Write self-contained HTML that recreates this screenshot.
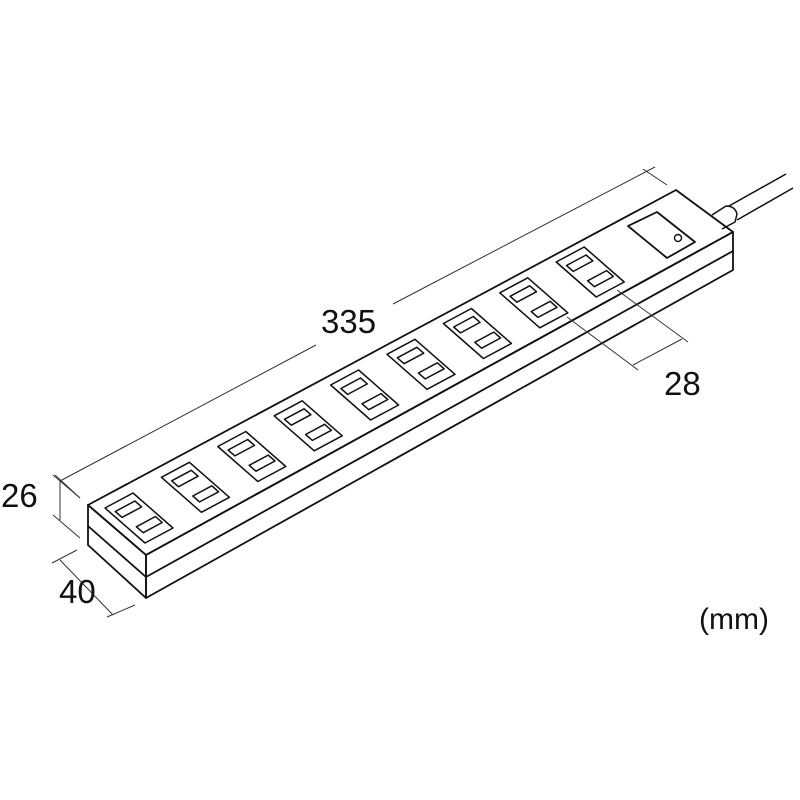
<!DOCTYPE html>
<html><head><meta charset="utf-8"><style>html,body{margin:0;padding:0;background:#fff}svg{display:block}</style></head>
<body>
<svg width="800" height="800" viewBox="0 0 800 800" xmlns="http://www.w3.org/2000/svg">
<g fill="none" stroke="#111" stroke-width="1.8" stroke-linejoin="round">
<polygon points="88,505 676,190 733,232 146,555"/>
<polygon points="88,505 146,555 146,598 88,545"/>
<polygon points="146,555 733,232 733,270 146,598"/>
<polyline points="88,526 146,577 733,251"/>
<polygon points="628,226 657,212 695,242 667,258"/>
<circle cx="678" cy="238" r="3.5" stroke-width="1.4"/>
<path d="M712,215 L726,206 Q735,206 737,214 L735,222 L722,229" stroke-width="1.5"/>
<line x1="729" y1="206" x2="786" y2="174" stroke-width="1.5"/>
<line x1="737" y1="220" x2="793" y2="188" stroke-width="1.5"/>
</g>
<g id="outlets" fill="none" stroke="#111" stroke-width="1.5" stroke-linejoin="round"></g>
<g fill="none" stroke="#333" stroke-width="1">
<line x1="60" y1="481" x2="316" y2="345"/>
<line x1="393" y1="304" x2="655" y2="167"/>
<line x1="53" y1="475" x2="80" y2="498"/>
<line x1="643" y1="169" x2="667" y2="185"/>
<line x1="60" y1="480" x2="60" y2="520"/>
<line x1="55" y1="475" x2="80" y2="498"/>
<line x1="53" y1="515" x2="80" y2="538"/>
<line x1="52" y1="563" x2="77" y2="550"/>
<line x1="60" y1="560" x2="113" y2="615"/>
<line x1="107" y1="617" x2="135" y2="605"/>
<line x1="567" y1="317" x2="638" y2="370"/>
<line x1="617" y1="290" x2="688" y2="342"/>
<line x1="633" y1="365" x2="682" y2="339"/>
</g>
<g font-family="Liberation Sans, sans-serif" font-size="33" fill="#111">
<text x="321" y="333">335</text>
<text x="1" y="507">26</text>
<text x="59" y="603">40</text>
<text x="664" y="395">28</text>
<text x="699" y="629" font-size="30">(mm)</text>
</g>
<script>
var g=document.getElementById('outlets'),ns='http://www.w3.org/2000/svg';
var u=[28,-15],v=[40,35];
function P(cx,cy,s,t){return [cx+(s-0.5)*u[0]+(t-0.5)*v[0],cy+(s-0.5)*u[1]+(t-0.5)*v[1]];}
function poly(cx,cy,s0,s1,t0,t1){var p=[P(cx,cy,s0,t0),P(cx,cy,s1,t0),P(cx,cy,s1,t1),P(cx,cy,s0,t1)];
var e=document.createElementNS(ns,'polygon');e.setAttribute('points',p.map(function(a){return a[0].toFixed(1)+','+a[1].toFixed(1)}).join(' '));g.appendChild(e);}
for(var i=0;i<9;i++){var cx=139+i*56.4,cy=518-i*30.75;
poly(cx,cy,0,1,0,1);poly(cx,cy,0.14,0.84,0.16,0.33);poly(cx,cy,0.22,0.9,0.63,0.8);}
</script>
</svg>
</body></html>
